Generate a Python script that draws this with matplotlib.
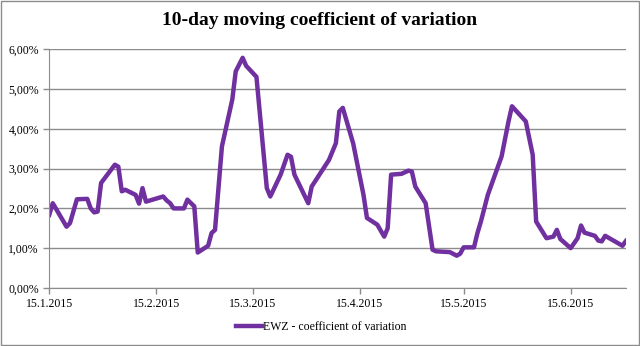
import matplotlib
matplotlib.use("Agg")
import matplotlib.pyplot as plt
import matplotlib.dates as mdates
from matplotlib.ticker import FuncFormatter, MultipleLocator
from matplotlib.patches import Rectangle
import pandas as pd

# 10-day moving coefficient of variation, EWZ (values in %)
dates = ["2015-01-15", "2015-01-16", "2015-01-20", "2015-01-21", "2015-01-23",
         "2015-01-26", "2015-01-27", "2015-01-28", "2015-01-29", "2015-01-30",
         "2015-02-03", "2015-02-04", "2015-02-05", "2015-02-06", "2015-02-09",
         "2015-02-10", "2015-02-11", "2015-02-12", "2015-02-17", "2015-02-18",
         "2015-02-19", "2015-02-20", "2015-02-23", "2015-02-24", "2015-02-26",
         "2015-02-27", "2015-03-02", "2015-03-03", "2015-03-04", "2015-03-06",
         "2015-03-09", "2015-03-10", "2015-03-12", "2015-03-13", "2015-03-16",
         "2015-03-19", "2015-03-20", "2015-03-23", "2015-03-25", "2015-03-26",
         "2015-03-27", "2015-03-31", "2015-04-01", "2015-04-06", "2015-04-08",
         "2015-04-09", "2015-04-10", "2015-04-13", "2015-04-16", "2015-04-17",
         "2015-04-20", "2015-04-22", "2015-04-23", "2015-04-24", "2015-04-27",
         "2015-04-29", "2015-04-30", "2015-05-01", "2015-05-04", "2015-05-06",
         "2015-05-07", "2015-05-11", "2015-05-13", "2015-05-14", "2015-05-15",
         "2015-05-18", "2015-05-19", "2015-05-20", "2015-05-22", "2015-05-26",
         "2015-05-28", "2015-05-29", "2015-06-02", "2015-06-04", "2015-06-05",
         "2015-06-08", "2015-06-10", "2015-06-11", "2015-06-12", "2015-06-15",
         "2015-06-17", "2015-06-18", "2015-06-19", "2015-06-22", "2015-06-23",
         "2015-06-24", "2015-06-25", "2015-06-30", "2015-07-01"]
cv = [1.84, 2.13, 1.54, 1.63, 2.23,
      2.24, 2.00, 1.90, 1.92, 2.64,
      3.10, 3.05, 2.43, 2.47, 2.34,
      2.12, 2.51, 2.17, 2.30, 2.20,
      2.13, 2.00, 2.00, 2.22, 2.05,
      0.89, 1.06, 1.38, 1.46, 3.56,
      4.74, 5.45, 5.79, 5.59, 5.31,
      2.51, 2.30, 2.85, 3.35, 3.30,
      2.85, 2.13, 2.55, 3.22, 3.64,
      4.44, 4.53, 3.64, 2.34, 1.76,
      1.59, 1.29, 1.50, 2.85, 2.87,
      2.95, 2.93, 2.55, 2.13, 0.96,
      0.92, 0.90, 0.81, 0.86, 1.02,
      1.02, 1.38, 1.67, 2.34, 3.31,
      4.19, 4.57, 4.19, 3.35, 1.67,
      1.25, 1.29, 1.46, 1.23, 1.00,
      1.25, 1.57, 1.39, 1.31, 1.19,
      1.17, 1.31, 1.06, 1.18]
tick_dates = ["2015-01-15", "2015-02-15", "2015-03-15",
              "2015-04-15", "2015-05-15", "2015-06-15"]

x = pd.to_datetime(dates)
y = [v / 100 for v in cv]
ticks = pd.to_datetime(tick_dates)

serif = ["Liberation Serif", "DejaVu Serif"]
grid_col = "#8c8c8c"

fig = plt.figure(figsize=(6.4, 3.46), dpi=100)
ax = fig.add_axes([0.077, 0.168, 0.901, 0.689])

ax.plot(x, y, color="#7030a0", lw=3.2, solid_joinstyle="round",
        label="EWZ - coefficient of variation")

ax.set_ylim(0, 0.06)
ax.yaxis.set_major_locator(MultipleLocator(0.01))
ax.yaxis.set_major_formatter(
    FuncFormatter(lambda v, p: f"{v*100:.2f}%".replace(".", ",")))
ax.set_xlim(pd.Timestamp("2015-01-15"), pd.Timestamp("2015-07-01"))
ax.set_xticks(ticks)
ax.xaxis.set_major_formatter(
    FuncFormatter(lambda v, p: (lambda d: f"{d.day}.{d.month}.{d.year}")(mdates.num2date(v))))

ax.grid(axis="y", color=grid_col, lw=1)
ax.set_axisbelow(True)
for s in ["top", "right"]:
    ax.spines[s].set_visible(False)
for s in ["left", "bottom"]:
    ax.spines[s].set_color(grid_col)
ax.tick_params(axis="both", colors=grid_col, length=4, width=1,
               labelcolor="black", labelsize=8.5)
for lab in ax.get_xticklabels() + ax.get_yticklabels():
    lab.set_family(serif)

fig.text(0.5, 0.94, "10-day moving coefficient of variation", ha="center",
         va="center", fontsize=14, fontweight="bold", family=serif)

leg = fig.legend(loc="center", bbox_to_anchor=(0.502, 0.055), frameon=False,
                 handlelength=2.2, handletextpad=0.05,
                 prop={"family": serif, "size": 8.5})

fig.patches.append(Rectangle((0.001, 0.002), 0.997, 0.994, transform=fig.transFigure,
                             fill=False, edgecolor="#8c8c8c", lw=1))

fig.savefig("out.png", dpi=100)
